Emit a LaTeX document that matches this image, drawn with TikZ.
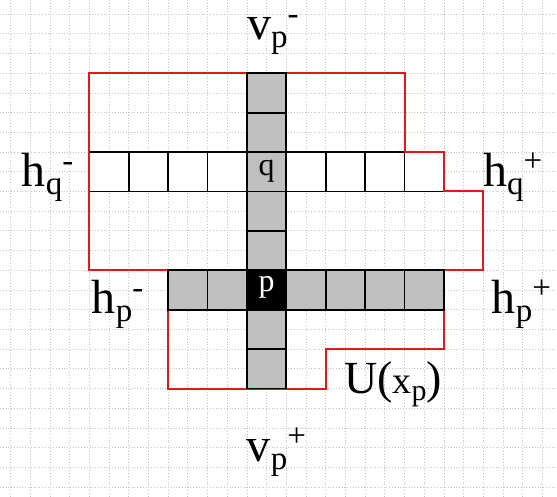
\documentclass[tikz,border=0pt]{standalone}
\usepackage{fontspec}
\setmainfont{Liberation Serif}
\definecolor{cellgray}{RGB}{191,191,191}
\definecolor{outlinered}{RGB}{225,25,25}
\definecolor{gridgray}{RGB}{195,195,195}
\newcommand{\lbl}[3]{{\fontsize{48}{48}\selectfont #1}{\fontsize{33}{33}\selectfont\raisebox{-8pt}{#2}\raisebox{15pt}{#3}}}
\begin{document}
\begin{tikzpicture}[x=1pt,y=-1pt,
  gridline/.style={draw=gridgray, line width=0.8pt, dotted},
  whitecell/.style={draw=black, fill=white, line width=1.8pt},
  graycell/.style={draw=black, fill=cellgray, line width=1.8pt},
  blackcell/.style={draw=black, fill=black, line width=1.8pt},
  regionline/.style={draw=outlinered, line width=2pt},
  label/.style={anchor=base west, inner sep=0pt, text=black}]
\useasboundingbox (0,0) rectangle (557,497);
\fill[white] (0,0) rectangle (557,497);
\foreach \i in {0,...,28} \draw[gridline] ({10.5+\i*19.7},0) -- ({10.5+\i*19.7},497);
\foreach \j in {0,...,25} \draw[gridline] (0,{14.2+\j*19.7}) -- (557,{14.2+\j*19.7});
\begin{scope}[shift={(89.3,73.3)}, x=39.4pt, y=-39.4pt]
  % q row
  \foreach \k in {0,1,2,3,5,6,7,8} \draw[whitecell] (\k,2) rectangle ++(1,1);
  % region U(x_p)
  \draw[regionline] (0,0) -| (8,2) -| (9,3) -| (10,5) -| (9,7) -| (6,8) -| (2,5) -| (0,0) -- cycle;
  % vertical column
  \foreach \k in {0,1,2,3,4,6,7} \draw[graycell] (4,\k) rectangle ++(1,1);
  % p row
  \foreach \k in {2,3,5,6,7,8} \draw[graycell] (\k,5) rectangle ++(1,1);
  \draw[blackcell] (4,5) rectangle ++(1,1);
  \node[anchor=base, inner sep=0pt, font=\fontsize{32}{32}\selectfont] (q) at (4.5,2.6) {q};
  \node[anchor=base, inner sep=0pt, text=white, font=\fontsize{32}{32}\selectfont] (p) at (4.5,5.55) {p};
\end{scope}
\node[label] (vpm) at (247,40) {\lbl{v}{p}{-}};
\node[label] (hqm) at (21.7,186.7) {\lbl{h}{q}{-}};
\node[label] (hqp) at (483,186.7) {\lbl{h}{q}{+}};
\node[label] (hpm) at (91.7,313.3) {\lbl{h}{p}{-}};
\node[label] (hpp) at (491.7,313.3) {\lbl{h}{p}{+}};
\node[label] (vpp) at (246.7,461.7) {\lbl{v}{p}{+}};
\node[label] (U) at (344,393.3) {{\fontsize{46}{46}\selectfont U(}{\fontsize{38}{38}\selectfont x}{\fontsize{30}{30}\selectfont\raisebox{-7pt}{p}}{\fontsize{46}{46}\selectfont )}};
\end{tikzpicture}
\end{document}
